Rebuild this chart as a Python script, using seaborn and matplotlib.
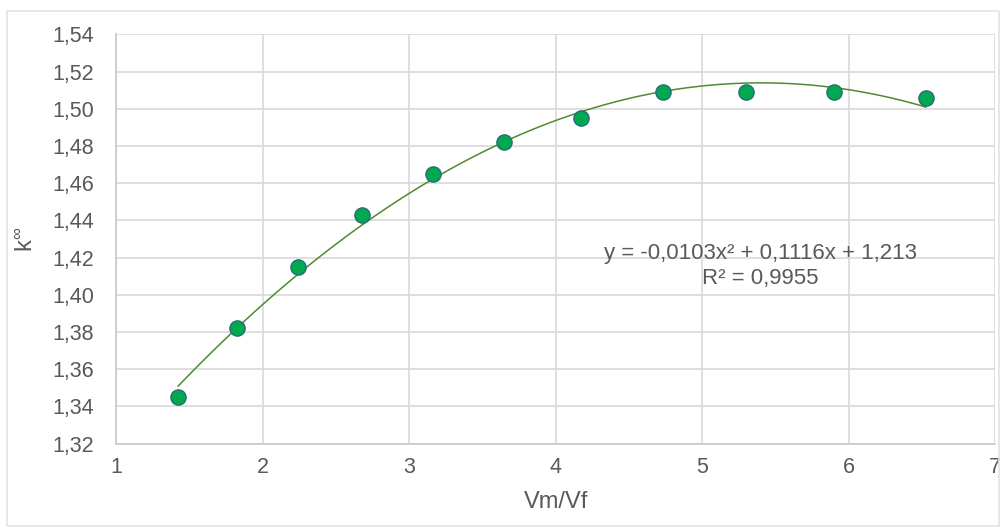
import numpy as np
import pandas as pd
import matplotlib
matplotlib.use("Agg")
import matplotlib.pyplot as plt
import seaborn as sns
from matplotlib.ticker import FuncFormatter, MultipleLocator
from matplotlib.patches import Rectangle

# values
vm_vf = [1.42, 1.82, 2.24, 2.68, 3.16, 3.65, 4.17, 4.73, 5.30, 5.90, 6.53]
k_inf = [1.345, 1.382, 1.415, 1.443, 1.465, 1.482, 1.495, 1.509, 1.509, 1.509, 1.506]
equation = "y = -0,0103x² + 0,1116x + 1,213"
r_squared = "R² = 0,9955"

df = pd.DataFrame({"Vm/Vf": vm_vf, "kinf": k_inf})

sns.set_theme(style="whitegrid")
plt.rcParams["font.family"] = ["Liberation Sans", "DejaVu Sans"]
grey_text = "#595959"

fig = plt.figure(figsize=(10.04, 5.30), dpi=100)
ax = fig.add_axes([0.116, 0.163, 0.875, 0.772])

# polynomial trendline (order 2) over the data range
sns.regplot(data=df, x="Vm/Vf", y="kinf", order=2, ci=None, scatter=False,
            line_kws={"color": "#4f8a2f", "linewidth": 1.1}, ax=ax)
sns.scatterplot(data=df, x="Vm/Vf", y="kinf", s=120, color="#00a84f",
                edgecolor="#2b6b7a", linewidth=1.0, zorder=5, ax=ax)

ax.set_xlim(1, 7)
ax.set_ylim(1.32, 1.54)
ax.xaxis.set_major_locator(MultipleLocator(1))
ax.yaxis.set_major_locator(MultipleLocator(0.02))
ax.yaxis.set_major_formatter(FuncFormatter(lambda v, p: f"{v:.2f}".replace(".", ",")))
ax.xaxis.set_major_formatter(FuncFormatter(lambda v, p: f"{v:.0f}"))

ax.grid(True, color="#d9d9d9", linewidth=1.2)
for side in ["top", "right"]:
    ax.spines[side].set_visible(False)
for side in ["left", "bottom"]:
    ax.spines[side].set_color("#c8c8c8")
    ax.spines[side].set_linewidth(1.2)

ax.tick_params(axis="y", length=0, pad=16, labelsize=15.5, labelcolor=grey_text)
ax.tick_params(axis="x", length=0, pad=10, labelsize=15.5, labelcolor=grey_text)

ax.set_xlabel("Vm/Vf", fontsize=17, color=grey_text, labelpad=9)
ax.set_ylabel("$\\mathregular{k^{∞}}$", fontsize=17, color=grey_text, labelpad=10)

ax.text(5.40, 1.4155, equation + "\n" + r_squared, ha="center", va="center",
        fontsize=16, color=grey_text, linespacing=1.2)

# light chart border
fig.patches.append(Rectangle((0.007, 0.008), 0.988, 0.972, transform=fig.transFigure,
                             fill=False, edgecolor="#e3e3e3", linewidth=1.2))

fig.savefig("out.png", dpi=100)
plt.close(fig)
